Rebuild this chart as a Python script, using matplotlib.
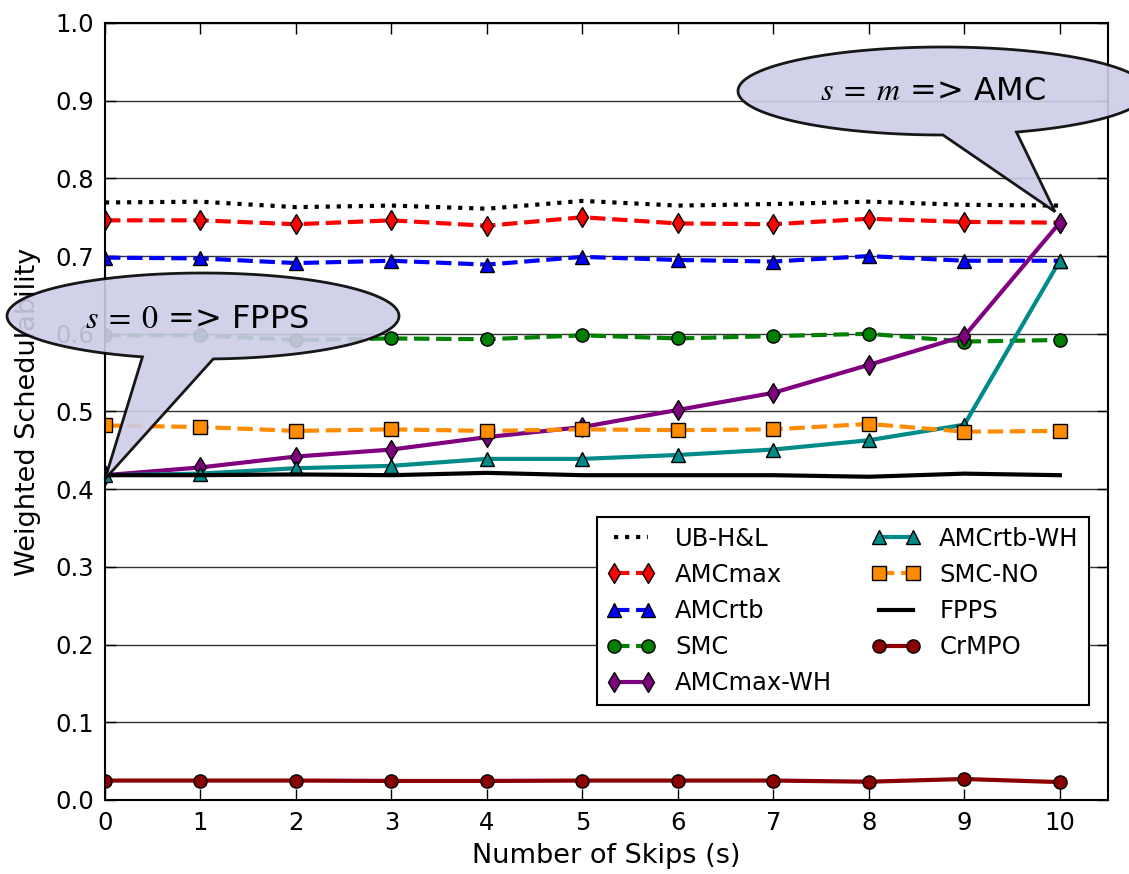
import numpy as np
import matplotlib
matplotlib.use('Agg')
import matplotlib.pyplot as plt
from matplotlib.patches import Polygon

plt.rcParams['font.family'] = 'DejaVu Sans'
plt.rcParams['font.size'] = 17.5
plt.rcParams['mathtext.fontset'] = 'stix'

# data
skips = list(range(11))
ub_hl = [0.769, 0.770, 0.763, 0.765, 0.761, 0.771, 0.765, 0.767, 0.770, 0.766, 0.765]
amc_max = [0.746, 0.746, 0.741, 0.746, 0.739, 0.750, 0.742, 0.741, 0.748, 0.744, 0.743]
amc_rtb = [0.698, 0.697, 0.691, 0.694, 0.689, 0.699, 0.695, 0.693, 0.700, 0.694, 0.694]
smc = [0.598, 0.598, 0.592, 0.594, 0.593, 0.598, 0.594, 0.597, 0.600, 0.590, 0.592]
amc_max_wh = [0.418, 0.428, 0.442, 0.451, 0.467, 0.480, 0.502, 0.524, 0.560, 0.597, 0.743]
amc_rtb_wh = [0.418, 0.420, 0.427, 0.430, 0.439, 0.439, 0.444, 0.451, 0.463, 0.483, 0.694]
smc_no = [0.482, 0.480, 0.475, 0.477, 0.475, 0.477, 0.476, 0.477, 0.484, 0.474, 0.475]
fpps = [0.418, 0.418, 0.419, 0.418, 0.421, 0.418, 0.418, 0.418, 0.416, 0.420, 0.418]
crmpo = [0.025, 0.025, 0.025, 0.0245, 0.0245, 0.025, 0.025, 0.025, 0.0235, 0.027, 0.023]

fig = plt.figure(figsize=(11.29, 8.74), dpi=100)
ax = fig.add_axes([0.093, 0.0847, 0.888, 0.889])

ax.plot(skips, ub_hl, ':', color='k', lw=3, label='UB-H&L')
ax.plot(skips, amc_max, '--', color='red', lw=3, marker='d', ms=10,
        mec='k', mew=1, label='AMCmax')
ax.plot(skips, amc_rtb, '--', color='blue', lw=3, marker='^', ms=10.5,
        mec='k', mew=1, label='AMCrtb')
ax.plot(skips, smc, '--', color='green', lw=3, marker='o', ms=9.5,
        mec='k', mew=1, label='SMC')
ax.plot(skips, amc_max_wh, '-', color='purple', lw=3, marker='d', ms=10.5,
        mec='k', mew=1, label='AMCmax-WH')
ax.plot(skips, amc_rtb_wh, '-', color='darkcyan', lw=3, marker='^', ms=10.5,
        mec='k', mew=1, label='AMCrtb-WH')
ax.plot(skips, smc_no, '--', color='darkorange', lw=3, marker='s', ms=9.5,
        mec='k', mew=1, label='SMC-NO')
ax.plot(skips, fpps, '-', color='k', lw=3, label='FPPS')
ax.plot(skips, crmpo, '-', color='darkred', lw=3, marker='o', ms=9.5,
        mec='k', mew=1, label='CrMPO')

ax.set_xlim(0, 10.5)
ax.set_ylim(0, 1.0)
ax.set_xticks(skips)
ax.set_yticks(np.arange(0, 1.01, 0.1))
ax.set_yticklabels(['%.1f' % v for v in np.arange(0, 1.01, 0.1)])
ax.yaxis.grid(True, color='0.2', lw=1, ls='-')
ax.set_axisbelow(True)
ax.tick_params(direction='in', top=True, right=True, length=8, width=1, pad=8)
for sp in ax.spines.values():
    sp.set_linewidth(1.5)
ax.set_xlabel('Number of Skips (s)', fontsize=19.5, labelpad=6)
ax.set_ylabel('Weighted Schedulability', fontsize=19.5, labelpad=10)

leg = ax.legend(ncol=2, loc='lower right', bbox_to_anchor=(0.981, 0.122),
                numpoints=2, handlelength=2.0, fancybox=False, framealpha=1,
                borderaxespad=0, fontsize=17.5, columnspacing=1.6)
leg.get_frame().set_edgecolor('k')
leg.get_frame().set_linewidth(1.5)


# speech bubbles (pixel positions, y measured from the top)
def bubble(center, a, b, ang0, ang1, tip, text, text_xy):
    W, H = fig.get_size_inches() * fig.dpi
    cx, cy = center[0], H - center[1]
    t = np.radians(np.linspace(ang1, ang0 + 360, 240))
    pts = np.column_stack([cx + a * np.cos(t), cy + b * np.sin(t)])
    tx, ty = ax.transData.transform(tip)
    pts = np.vstack([pts, [tx, ty]]) / [W, H]
    fig.add_artist(Polygon(pts, closed=True, transform=fig.transFigure,
                           fc=(0.8, 0.8, 0.91), ec='k', lw=2, alpha=0.9,
                           zorder=5))
    fig.text(text_xy[0] / W, 1 - text_xy[1] / H, text, fontsize=23,
             ha='center', va='center', zorder=6)


bubble((203, 316), 196, 43, 252, 273, (0, 0.413),
       r'$s\;=\;0$ => FPPS', (197, 320))
bubble((943, 91), 205, 44, 270, 291, (9.95, 0.757),
       r'$s\;=\;m$ => AMC', (933, 91))

fig.savefig('out.png', dpi=100)
